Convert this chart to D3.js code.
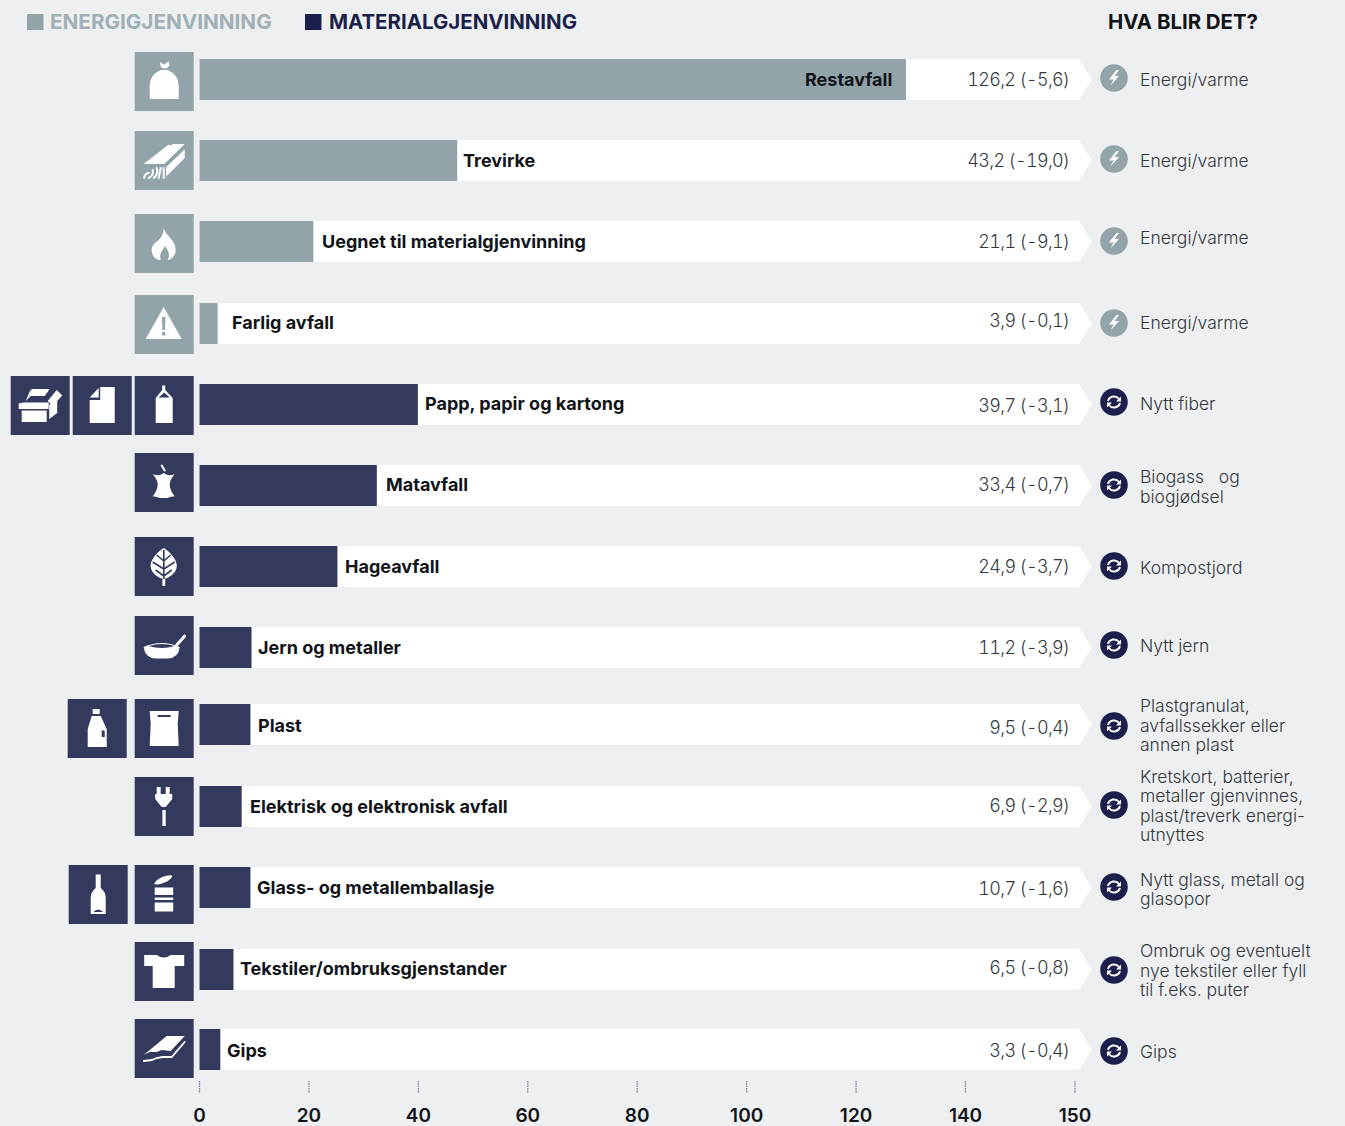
<!DOCTYPE html>
<html lang="no"><head><meta charset="utf-8">
<style>html,body{margin:0;padding:0;background:#eeeff1}svg{display:block}text{font-family:Inter,"Noto Sans",sans-serif}</style>
<script src="https://cdn.jsdelivr.net/npm/d3@7"></script></head><body><div id="c"></div>
<script>
// ---------- data ----------
const categories=["Restavfall","Trevirke","Uegnet til materialgjenvinning","Farlig avfall","Papp, papir og kartong","Matavfall","Hageavfall","Jern og metaller","Plast","Elektrisk og elektronisk avfall","Glass- og metallemballasje","Tekstiler/ombruksgjenstander","Gips"];
const groups=["E","E","E","E","M","M","M","M","M","M","M","M","M"];
// bar lengths as read against the axis
const barValues=[129.2,47.2,20.9,3.4,40,32.5,25.3,9.6,9.4,7.8,9.4,6.3,3.9];
const valueLabels=["126,2 (-5,6)","43,2 (-19,0)","21,1 (-9,1)","3,9 (-0,1)","39,7 (-3,1)","33,4 (-0,7)","24,9 (-3,7)","11,2 (-3,9)","9,5 (-0,4)","6,9 (-2,9)","10,7 (-1,6)","6,5 (-0,8)","3,3 (-0,4)"];
const outcomes=[["Energi/varme"],["Energi/varme"],["Energi/varme"],["Energi/varme"],["Nytt fiber"],["Biogass   og","biogjødsel"],["Kompostjord"],["Nytt jern"],["Plastgranulat,","avfallssekker eller","annen plast"],["Kretskort, batterier,","metaller gjenvinnes,","plast/treverk energi-","utnyttes"],["Nytt glass, metall og","glasopor"],["Ombruk og eventuelt","nye tekstiler eller fyll","til f.eks. puter"],["Gips"]];
const tickValues=[0,20,40,60,80,100,120,140,150];
const legendLabels=["ENERGIGJENVINNING","MATERIALGJENVINNING"];
const outcomeTitle="HVA BLIR DET?";
const iconSets=[["sack"],["wood"],["flame"],["warn"],["box","paper","carton"],["core"],["leaf"],["pan"],["bottle","bag"],["plug"],["glass","can"],["shirt"],["board"]];

// ---------- layout ----------
const W=1345,H=1126;
const C={bg:"#eeeff1",grey:"#92a3aa",navy:"#343a5e",dark:"#1a1f4b",ink:"#111418",soft:"#33383c"};
const barTop=[59,140,221,303,384,465,546,627,704,786,867,949,1029];
const iconTop=[52,131,214,295,376,453,537,616,699,777,865,942,1019];
const labelX=[805,463,322,232,425,386,345,258,258,250,257,240,227];
const labelY=[79,160,241,322,403,484,566,647,725,806,887,968,1050];
const valueY=[79,160,241,320,405,484,566,647,727,805,888,967,1050];
const circleY=[78,159,241,323,402,485,566,645,726,805,887,970,1051];
const outcomeY=[[79],[160],[237],[322],[403],[476,496],[567],[645],[705,725,744],[776,795,815,834],[879,898],[950,970,989],[1051]];
const extraIconX={box:10.7,paper:72.7,bottle:67.7,glass:68.7};
const x=d3.scaleLinear().domain([0,140,150]).range([199,965,1074.5]);
const rowBar=d3.scaleOrdinal(categories,barTop);
const rowIcon=d3.scaleOrdinal(categories,iconTop);
const barH=41,iconS=59;

const svg=d3.select("#c").append("svg").attr("width",W).attr("height",H).attr("viewBox",[0,0,W,H]);
svg.append("rect").attr("width",W).attr("height",H).attr("fill",C.bg);

// Pictograms, in a 59×59 box. "h" = shape cut out with box colour.
const ICONS={
 sack:{f:"M15 47V33Q15 23 26 18H33Q44 23 44 33V47Z M25 10L29 12.5L34 9.5L35 13Q33 16.5 30 16.5Q27 16.5 26 14.5Z"},
 wood:{f:"M9 33L34 13.5L36 14.5L38 13L50 13L29.5 33Z M31.5 36L50 18.5V27L31.5 45.5Z",s:"M9.5 47A5 5 0 0 1 14 42 M14 47A7 7 0 0 0 18 39 M19 47A9 9 0 0 0 22 37 M24 47L26 37 M29 47V37"},
 flame:{f:"M29 14C31 22 41 26 41 36C41 42 36 46 33 46C35 42 35 38 30 32C29 36 24 39 26 46C21 46 17 42 17 36C17 30 22 28 24 26C27 23 29 19 29 14Z"},
 warn:{f:"M29 12L47 44H11Z",h:"M27.2 22H30.8L30.2 35H27.8Z M27.4 37H30.6V40.5H27.4Z"},
 carton:{f:"M21 47V22L27.5 14V9.5H30.5V14L38 22V47Z",h:"M24 21.5L29.5 16.5L35 21.5Z"},
 paper:{f:"M17 47V24H27.5V11H42V47Z M17 21.5L26 12V21.5Z"},
 box:{f:"M11 34.5H36V46H11Z M8 27.5L13 26.5H38V33H8Z M15 25L20 13V20Z M21 13H39L34 20H19Z M38.5 29L46.5 24V37L38.5 43Z M37 25L46 14L51.5 19.5L42 30Z"},
 core:{f:"M18 21Q24 24 29 20Q34 24 40 21Q35 27 35 31.5Q35 37 40 43.5Q35 43 33 45H25Q22 43 18 43.5Q23 37 23 31.5Q23 27 18 21Z",s:"M27 12.5L30 17.5"},
 leaf:{f:"M29 11C37 16 43 24 42 30C41 37 34 41 29 42C24 41 17 37 16 30C15 24 21 16 29 11Z M27.7 42H30.5V49H27.7Z",hs:"M29.1 13V42 M29.1 24L36 18 M29.1 24L22 18 M29.1 32L40 25 M29.1 32L18 25 M29.1 39L37 33 M29.1 39L21 33"},
 pan:{f:"M9 31Q27 23 45 31Q44 42 33 42.5H21Q10 42 9 31Z",h:"M14 30Q27 26 40 30Q27 34 14 30Z",s:"M42 29L50 20",sw:3},
 bottle:{f:"M25 10H32V15H25Z M24 17H33L39 30V48H20V30Z",h:"M34 31L37 32V38H34Z"},
 bag:{f:"M15 12H44L43 25L44 47H15L16 25Z",h:"M23 16H36V18H23Z"},
 plug:{f:"M22 10H26V17H31V10H35V17H37.5V22L31 30H27L20.5 22V17H22Z M27.7 33H31V49H27.7Z"},
 glass:{f:"M27 9.5H32V23Q37 27 37 33V49H22V33Q22 27 27 23Z",h:"M24.5 47Q29.5 42 34.5 47Z"},
 can:{f:"M19.5 19C21 14 32 9 37.5 10.5C38 15 25 21 19.5 19Z M20 22.5H38.5V30H20Z M20 32.5H38.5V35H20Z M20 37.5H38.5V46.5H20Z"},
 shirt:{f:"M9.5 13H22Q29 18 36 13H49.5V24H40V46H18V24H9.5Z"},
 board:{f:"M9 36L32 17H50L36 32L27 31L22 33L15 33Z",s:"M9 42L17 41L22 39L28 38L37 38L50 23",sw:1.8}
};
function drawIcon(g,name,fill){
 const ic=ICONS[name];
 g.append("rect").attr("width",iconS).attr("height",iconS).attr("fill",fill);
 g.append("path").attr("d",ic.f).attr("fill","#fff");
 if(ic.h)g.append("path").attr("d",ic.h).attr("fill",fill);
 if(ic.hs)g.append("path").attr("d",ic.hs).attr("fill","none").attr("stroke",fill).attr("stroke-width",1.6);
 if(ic.s)g.append("path").attr("d",ic.s).attr("fill","none").attr("stroke","#fff").attr("stroke-width",ic.sw||2).attr("stroke-linecap","round");
}

// legend + heading
const legendX=[27,305],legendTX=[50,329],legendC=[C.grey,C.dark],legendFS=[20.7,20.45];
legendLabels.forEach((t,i)=>{
 svg.append("rect").attr("x",legendX[i]).attr("y",14).attr("width",16.5).attr("height",16).attr("fill",legendC[i]);
 svg.append("text").attr("x",legendTX[i]).attr("y",29).attr("font-size",legendFS[i]).attr("font-weight",700).attr("fill",i?C.dark:"#9fb0b6").text(t);
});
svg.append("text").attr("x",1108).attr("y",29).attr("font-size",20.4).attr("font-weight",700).attr("fill",C.ink).text(outcomeTitle);

// rows
const row=svg.selectAll("g.row").data(categories.map((c,i)=>({c,i}))).join("g").attr("class","row");
const tipX=x.range()[2]+17.5,shoulderX=x.range()[2]+4.5;
row.append("path").attr("fill","#fff").attr("d",d=>{
 const t=rowBar(d.c);
 return d3.line()([[x(0),t],[shoulderX,t],[tipX,t+barH/2],[shoulderX,t+barH],[x(0),t+barH]])+"Z";});
row.append("rect").attr("x",x(0)+.5).attr("y",d=>rowBar(d.c)).attr("height",barH)
 .attr("width",d=>x(barValues[d.i])-x(0)-.5).attr("fill",d=>groups[d.i]=="E"?C.grey:C.navy);
row.append("text").attr("x",d=>labelX[d.i]).attr("y",d=>labelY[d.i]+6.5).attr("font-size",18).attr("font-weight",700).attr("fill",C.ink).text(d=>d.c);
row.append("text").attr("x",1069.5).attr("y",d=>valueY[d.i]+6.5).attr("text-anchor","end").attr("font-size",18).attr("font-weight",300).attr("fill",C.soft).attr("letter-spacing",-0.65).style("font-variant-numeric","tabular-nums").text(d=>valueLabels[d.i]);

// icons
row.each(function(d){
 const col=groups[d.i]=="E"?C.grey:C.navy;
 iconSets[d.i].forEach(n=>{
  const g=d3.select(this).append("g").attr("transform",`translate(${extraIconX[n]??134.7},${rowIcon(d.c)})`);
  drawIcon(g,n,col);
 });
});

// outcome badges
row.each(function(d){
 const g=d3.select(this).append("g").attr("transform",`translate(1114,${circleY[d.i]})`);
 const E=groups[d.i]=="E";
 g.append("circle").attr("r",13.8).attr("fill",E?C.grey:C.dark);
 if(E) g.append("path").attr("d","M2.5-8L-5 1.5H-0.5L-3.5 7.5L5-2H0.5L5-8Z").attr("fill","#fff");
 else{
  g.append("path").attr("d","M-6 -1A6.2 6.2 0 0 1 5 -3 M6 1A6.2 6.2 0 0 1 -5 3").attr("fill","none").attr("stroke","#fff").attr("stroke-width",2);
  g.append("path").attr("d","M7 -5.5V-0.5H2Z M-7 5.5V0.5H-2Z").attr("fill","#fff");
 }
 outcomes[d.i].forEach((t,k)=>{
  d3.select(this).append("text").attr("x",1140).attr("y",outcomeY[d.i][k]+6.5).attr("font-size",17.5).attr("font-weight",300).attr("fill",C.soft).style("white-space","pre").text(t);
 });
});

// axis
const axis=svg.append("g").attr("transform","translate(0,1081)").call(d3.axisBottom(x).tickValues(tickValues).tickSize(12).tickPadding(16).tickFormat(d3.format("d")));
axis.select(".domain").remove();
axis.selectAll(".tick line").attr("stroke","#7d82a3").attr("stroke-width",1.3).attr("stroke-dasharray","1.5 .8");
axis.selectAll(".tick text").attr("font-size",19).attr("font-weight",600).attr("fill",C.ink).style("font-family","Inter");
</script></body></html>
